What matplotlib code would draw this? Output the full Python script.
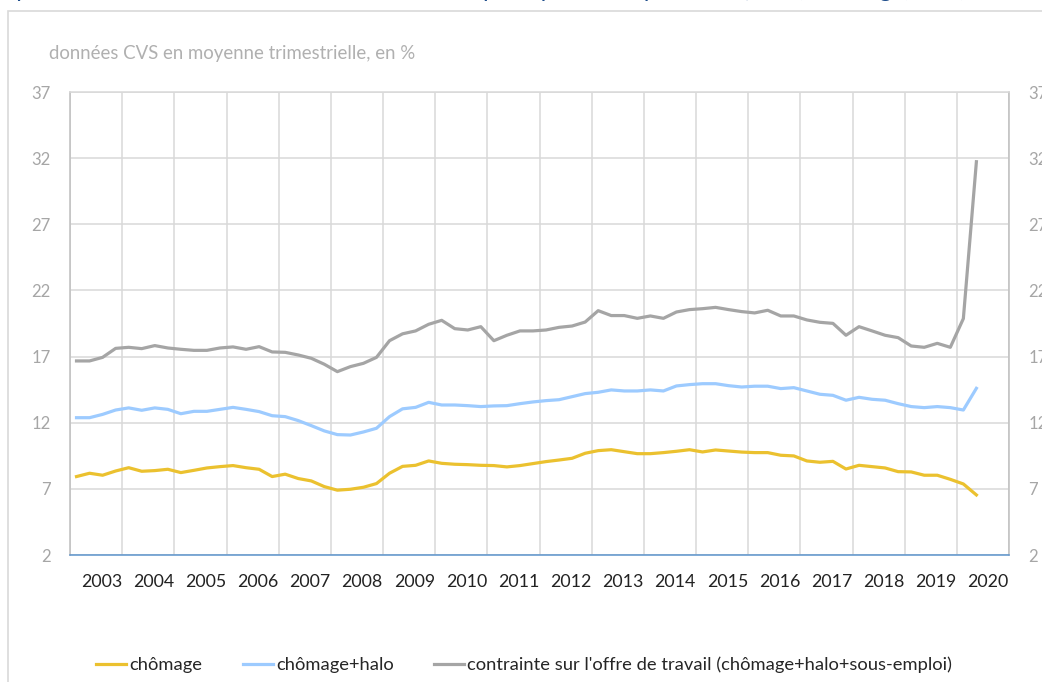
import numpy as np
import matplotlib.pyplot as plt
from matplotlib.patches import Rectangle

plt.rcParams['font.family'] = ['Lato', 'DejaVu Sans']

# quarterly series, 2003 Q1 -> 2020 Q2
years = list(range(2003, 2021))

chomage = [7.93, 8.18, 8.03, 8.35, 8.6, 8.33, 8.38, 8.48, 8.23, 8.4,
           8.58, 8.68, 8.76, 8.6, 8.48, 7.93, 8.11, 7.78, 7.6, 7.17,
           6.9, 6.97, 7.12, 7.4, 8.18, 8.7, 8.78, 9.11, 8.93, 8.86,
           8.83, 8.78, 8.76, 8.66, 8.76, 8.91, 9.06, 9.18, 9.31, 9.69,
           9.89, 9.96, 9.81, 9.66, 9.66, 9.74, 9.84, 9.96, 9.79, 9.94,
           9.86, 9.78, 9.74, 9.74, 9.54, 9.49, 9.11, 9.01, 9.08, 8.5,
           8.78, 8.68, 8.58, 8.3, 8.28, 8.03, 8.03, 7.72, 7.37, 6.54]

chomage_halo = [12.38, 12.38, 12.63, 12.96, 13.12, 12.94, 13.12, 13.01, 12.68, 12.86,
                12.86, 13.01, 13.16, 13.01, 12.84, 12.53, 12.46, 12.16, 11.78, 11.38,
                11.1, 11.07, 11.3, 11.58, 12.46, 13.05, 13.16, 13.54, 13.34, 13.34,
                13.29, 13.22, 13.27, 13.29, 13.44, 13.57, 13.67, 13.74, 13.97, 14.2,
                14.3, 14.48, 14.4, 14.4, 14.48, 14.4, 14.78, 14.88, 14.95, 14.95,
                14.8, 14.7, 14.76, 14.76, 14.58, 14.65, 14.4, 14.15, 14.07, 13.7,
                13.92, 13.77, 13.7, 13.44, 13.22, 13.14, 13.22, 13.14, 12.96, 14.6]

contrainte = [16.67, 16.67, 16.94, 17.62, 17.7, 17.6, 17.83, 17.65, 17.55, 17.47,
              17.47, 17.65, 17.73, 17.55, 17.75, 17.35, 17.32, 17.12, 16.87, 16.42,
              15.86, 16.24, 16.49, 16.94, 18.2, 18.72, 18.94, 19.44, 19.74, 19.11,
              19.01, 19.26, 18.2, 18.61, 18.94, 18.94, 19.01, 19.21, 19.31, 19.61,
              20.47, 20.1, 20.1, 19.89, 20.07, 19.89, 20.37, 20.55, 20.62, 20.72,
              20.55, 20.4, 20.3, 20.5, 20.07, 20.07, 19.77, 19.59, 19.51, 18.61,
              19.26, 18.94, 18.61, 18.43, 17.8, 17.7, 18.0, 17.7, 19.87, 31.73]

series_names = ["chômage", "chômage+halo",
                "contrainte sur l'offre de travail (chômage+halo+sous-emploi)"]
series_colors = ['#EBC12F', '#9DCBFF', '#A5A5A5']

subtitle = "données CVS en moyenne trimestrielle, en %"
title = ("Graphique 3 – Contrainte sur l'offre de travail et ses principales "
         "composantes (en %, chômage, halo, sous-emploi)")

fig = plt.figure(figsize=(10.42, 6.82), dpi=100)
ax = fig.add_axes([70 / 1042, 1 - 555 / 682, (1009 - 70) / 1042, (555 - 92) / 682])

x = np.arange(len(chomage))
for vals, name, col in zip([chomage, chomage_halo, contrainte], series_names, series_colors):
    ax.plot(x, vals, color=col, lw=2.3, label=name, solid_joinstyle='round')

# x axis: one category per quarter, gridlines at year boundaries
n_slots = 4 * len(years)
ax.set_xlim(-0.5, n_slots - 0.5)
ax.set_xticks(np.arange(len(years) + 1) * 4 - 0.5)
ax.set_xticklabels([])
ax.set_xticks(np.arange(len(years)) * 4 + 1.9, minor=True)
ax.set_xticklabels([str(y) for y in years], minor=True)
ax.tick_params(axis='x', which='both', length=0)
ax.tick_params(axis='x', which='minor', pad=14, labelsize=12.8, labelcolor='#222222')

ax.set_ylim(2, 37)
ax.set_yticks(range(2, 38, 5))
ax.tick_params(axis='y', length=0, pad=14, labelsize=12, labelcolor='#A6A6A6',
               right=True, labelright=True)

ax.grid(axis='x', which='major', color='#D9D9D9', lw=1.1)
ax.grid(axis='y', color='#D9D9D9', lw=1.1)
ax.set_axisbelow(True)

ax.spines['left'].set_color('#BFBFBF')
ax.spines['right'].set_color('#BFBFBF')
ax.spines['top'].set_color('#D9D9D9')
ax.spines['bottom'].set_color('#5B93CC')
for s in ax.spines.values():
    s.set_linewidth(1.1)

fig.text(49 / 1042, 1 - 53 / 682, subtitle, fontsize=13.4, color='#B0B0B0', va='center')

# title of the slide, mostly cut off at the top edge
fig.text(0.5, 1 + 3 / 682, title, fontsize=17, color='#1F4E8C', ha='center', va='baseline')

# light frame of the chart area
fig.add_artist(Rectangle((8 / 1042, -0.1), 1.2, 1.1 - 11 / 682, transform=fig.transFigure,
                         fill=False, edgecolor='#D9D9D9', lw=1.2))

fig.legend(loc='center', bbox_to_anchor=(0.503, 1 - 665 / 682), ncol=3, frameon=False,
           fontsize=13.2, handlelength=1.65, handletextpad=0.17, columnspacing=2.2,
           labelcolor='#262626')

fig.savefig('out.png', dpi=100)
